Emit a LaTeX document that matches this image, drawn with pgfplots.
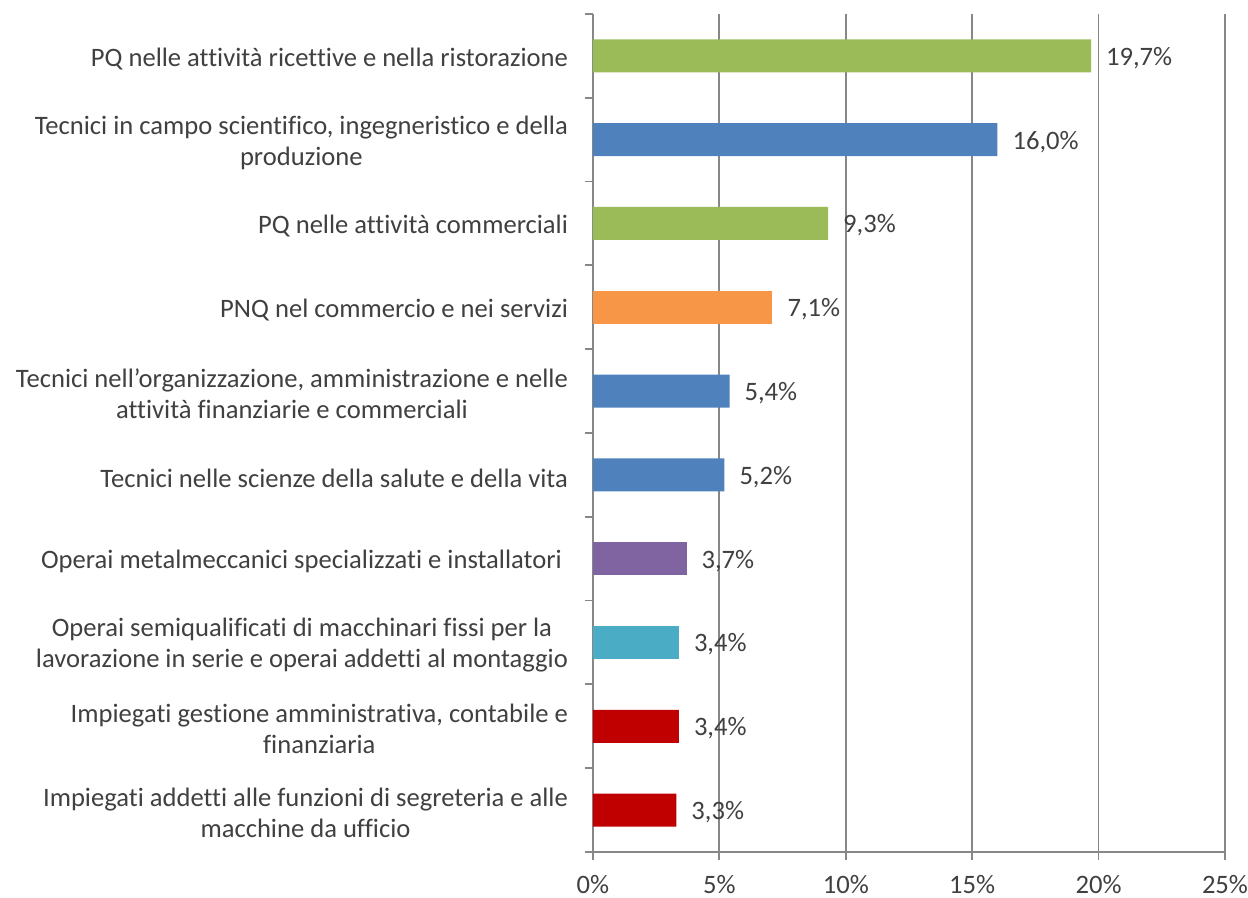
\documentclass[border=0pt]{standalone}
\usepackage{fontspec}
\setmainfont{Carlito}[Ligatures={NoCommon,NoContextual}, RawFeature={-liga;-clig;-calt}]
\usepackage{pgfplots}
\pgfplotsset{compat=1.18}
\definecolor{cgreen}{HTML}{9BBB59}
\definecolor{cblue}{HTML}{4F81BD}
\definecolor{corange}{HTML}{F79646}
\definecolor{cpurple}{HTML}{8064A2}
\definecolor{cteal}{HTML}{4BACC6}
\definecolor{cred}{HTML}{C00000}
\definecolor{gridc}{HTML}{878787}
\definecolor{txt}{HTML}{404040}

\begin{document}
\begin{tikzpicture}[font=\fontsize{13.3pt}{15.5pt}\selectfont, text=txt]
\useasboundingbox (-296.5pt,-23pt) rectangle (327.5pt,426pt);
\begin{axis}[
  at={(0,0)}, anchor=south west,
  scale only axis, width=316pt, height=419pt,
  xmin=0, xmax=25, ymin=-0.5, ymax=9.5,
  axis x line*=bottom, axis y line*=left,
  axis line style={gridc, line width=0.9pt},
  xtick={0,5,...,25},
  xticklabel={\pgfmathprintnumber{\tick}\%},
  /pgf/number format/assume math mode=true,
  xmajorgrids, major grid style={gridc, line width=0.9pt},
  tick align=outside, major tick length=4pt, minor tick length=4pt,
  tick style={gridc, line width=0.9pt},
  every major y tick/.append style={draw=none},
  ytick={0,...,9},
  minor ytick={-0.5,0.5,...,9.5},
  yticklabels={
    {Impiegati addetti alle funzioni di segreteria e alle\\macchine da ufficio},
    {Impiegati gestione amministrativa, contabile e\\finanziaria},
    {Operai semiqualificati di macchinari fissi per la\\lavorazione in serie e operai addetti al montaggio},
    {Operai metalmeccanici specializzati e installatori\hspace{0.23em}},
    {Tecnici nelle scienze della salute e della vita},
    {Tecnici nell’organizzazione, amministrazione e nelle\\attività finanziarie e commerciali},
    {PNQ nel commercio e nei servizi},
    {PQ nelle attività commerciali},
    {Tecnici in campo scientifico, ingegneristico e della\\produzione},
    {PQ nelle attività ricettive e nella ristorazione}},
  yticklabel style={align=center, xshift=-5pt, yshift=-1.5pt},
  xticklabel style={yshift=-4pt},
  xbar, bar shift=0pt, bar width=16.5pt,
  point meta=x,
  nodes near coords={\pgfmathprintnumber[fixed,fixed zerofill,precision=1,use comma]{\pgfplotspointmeta}\%},
  nodes near coords align=horizontal,
  every node near coord/.append style={anchor=west, xshift=4pt, yshift=-1pt, text=txt},
]
\addplot[xbar, bar shift=0pt, fill=cgreen, draw=none] coordinates {(19.7,9) (9.3,7)};
\addplot[xbar, bar shift=0pt, fill=cblue, draw=none] coordinates {(16.0,8) (5.4,5) (5.2,4)};
\addplot[xbar, bar shift=0pt, fill=corange, draw=none] coordinates {(7.1,6)};
\addplot[xbar, bar shift=0pt, fill=cpurple, draw=none] coordinates {(3.7,3)};
\addplot[xbar, bar shift=0pt, fill=cteal, draw=none] coordinates {(3.4,2)};
\addplot[xbar, bar shift=0pt, fill=cred, draw=none] coordinates {(3.4,1) (3.3,0)};
\end{axis}
\end{tikzpicture}
\end{document}
